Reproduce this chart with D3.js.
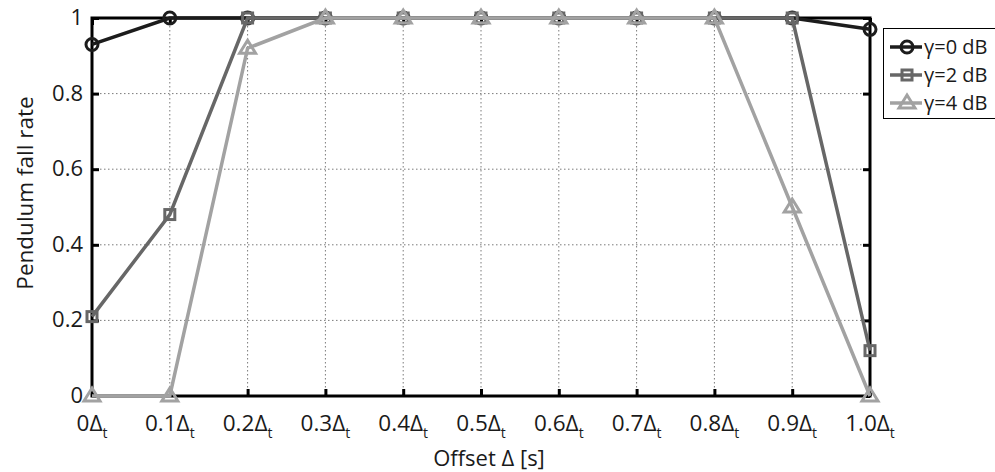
<!DOCTYPE html>
<html><head><meta charset="utf-8">
<script src="https://cdn.jsdelivr.net/npm/d3@7"></script>
<style>
body{margin:0;background:#fff;}
svg{display:block;font-family:"Open Sans",sans-serif;}
</style></head>
<body>
<svg id="c" width="995" height="472"></svg>
<script>
const offsets = [0,0.1,0.2,0.3,0.4,0.5,0.6,0.7,0.8,0.9,1.0];
const xTickLabels = ["0","0.1","0.2","0.3","0.4","0.5","0.6","0.7","0.8","0.9","1.0"];
const yTicks = [0,0.2,0.4,0.6,0.8,1];
const yTickLabels = ["0","0.2","0.4","0.6","0.8","1"];
const seriesNames = ["γ=0 dB","γ=2 dB","γ=4 dB"];
const gamma0 = [0.93,1,1,1,1,1,1,1,1,1,0.97];
const gamma2 = [0.21,0.48,1,1,1,1,1,1,1,1,0.12];
const gamma4 = [0,0,0.92,1,1,1,1,1,1,0.5,0];
const colors = ["#1c1c1c","#676767","#a2a2a2"];
const markers = ["circle","square","triangle"];

const svg = d3.select("#c");
const L=92,R=870,T=18,B=396;
const x = d3.scaleLinear().domain([0,1]).range([L,R]);
const y = d3.scaleLinear().domain([0,1]).range([B,T]);

// grid
const grid = svg.append("g").attr("stroke","#7a7a7a").attr("stroke-width",1).attr("stroke-dasharray","1.5,2.5");
offsets.slice(1,-1).forEach(v=>grid.append("line").attr("x1",x(v)).attr("x2",x(v)).attr("y1",T).attr("y2",B));
yTicks.slice(1,-1).forEach(v=>grid.append("line").attr("x1",L).attr("x2",R).attr("y1",y(v)).attr("y2",y(v)));

// axes with inward ticks
const ax = svg.append("g");
ax.append("g").attr("transform",`translate(0,${B})`).call(d3.axisTop(x).tickValues(offsets).tickSize(7).tickFormat(""));
ax.append("g").attr("transform",`translate(0,${T})`).call(d3.axisBottom(x).tickValues(offsets).tickSize(7).tickFormat(""));
ax.append("g").attr("transform",`translate(${L},0)`).call(d3.axisRight(y).tickValues(yTicks).tickSize(7).tickFormat(""));
ax.append("g").attr("transform",`translate(${R},0)`).call(d3.axisLeft(y).tickValues(yTicks).tickSize(7).tickFormat(""));
ax.selectAll(".domain").remove();
ax.selectAll("line").attr("stroke","#000").attr("stroke-width",3);
svg.append("rect").attr("x",L).attr("y",T).attr("width",R-L).attr("height",B-T)
  .attr("fill","none").attr("stroke","#000").attr("stroke-width",3);

// tick labels
const txt = "#1a1a1a";
offsets.forEach((v,i)=>{
  const t = svg.append("text").attr("x",x(v)).attr("y",431).attr("text-anchor","middle")
    .attr("font-size",22.5).attr("fill",txt);
  t.append("tspan").text(xTickLabels[i]+"Δ");
  t.append("tspan").text("t").attr("font-size",14).attr("dy",7);
});
yTicks.forEach((v,i)=>{
  svg.append("text").attr("x",83).attr("y",y(v)+7).attr("text-anchor","end")
    .attr("font-size",22).attr("fill",txt).text(yTickLabels[i]);
});
svg.append("text").attr("x",489).attr("y",466).attr("text-anchor","middle")
  .attr("font-size",22).attr("fill",txt).text("Offset Δ [s]");
svg.append("text").attr("transform",`translate(33,193) rotate(-90)`).attr("text-anchor","middle")
  .attr("font-size",22.5).attr("fill",txt).text("Pendulum fall rate");

function drawMarker(g,type,cx,cy,col){
  if(type==="circle") g.append("circle").attr("cx",cx).attr("cy",cy).attr("r",6)
    .attr("fill","none").attr("stroke",col).attr("stroke-width",3);
  else if(type==="square") g.append("rect").attr("x",cx-5).attr("y",cy-5).attr("width",10).attr("height",10)
    .attr("fill","none").attr("stroke",col).attr("stroke-width",3);
  else g.append("path").attr("d",`M${cx},${cy-8}L${cx+8},${cy+5}L${cx-8},${cy+5}Z`)
    .attr("fill","none").attr("stroke",col).attr("stroke-width",3).attr("stroke-linejoin","miter");
}

const line = d3.line().x((d,i)=>x(offsets[i])).y(d=>y(d));
[gamma0,gamma2,gamma4].forEach((s,k)=>{
  const g = svg.append("g");
  g.append("path").attr("d",line(s)).attr("fill","none").attr("stroke",colors[k]).attr("stroke-width",3.5);
  s.forEach((v,i)=>drawMarker(g,markers[k],x(offsets[i]),y(v),colors[k]));
});

// legend
const lg = svg.append("g");
lg.append("rect").attr("x",883.5).attr("y",28.5).attr("width",130).attr("height",90)
  .attr("fill","#fff").attr("stroke","#000").attr("stroke-width",1);
seriesNames.forEach((n,k)=>{
  const cy = 47 + k*28;
  lg.append("line").attr("x1",890).attr("x2",922).attr("y1",cy).attr("y2",cy)
    .attr("stroke",colors[k]).attr("stroke-width",3.5);
  drawMarker(lg,markers[k],907,cy,colors[k]);
  lg.append("text").attr("x",924).attr("y",cy+7).attr("font-size",20).attr("fill",txt).text(n);
});
</script>
</body></html>
